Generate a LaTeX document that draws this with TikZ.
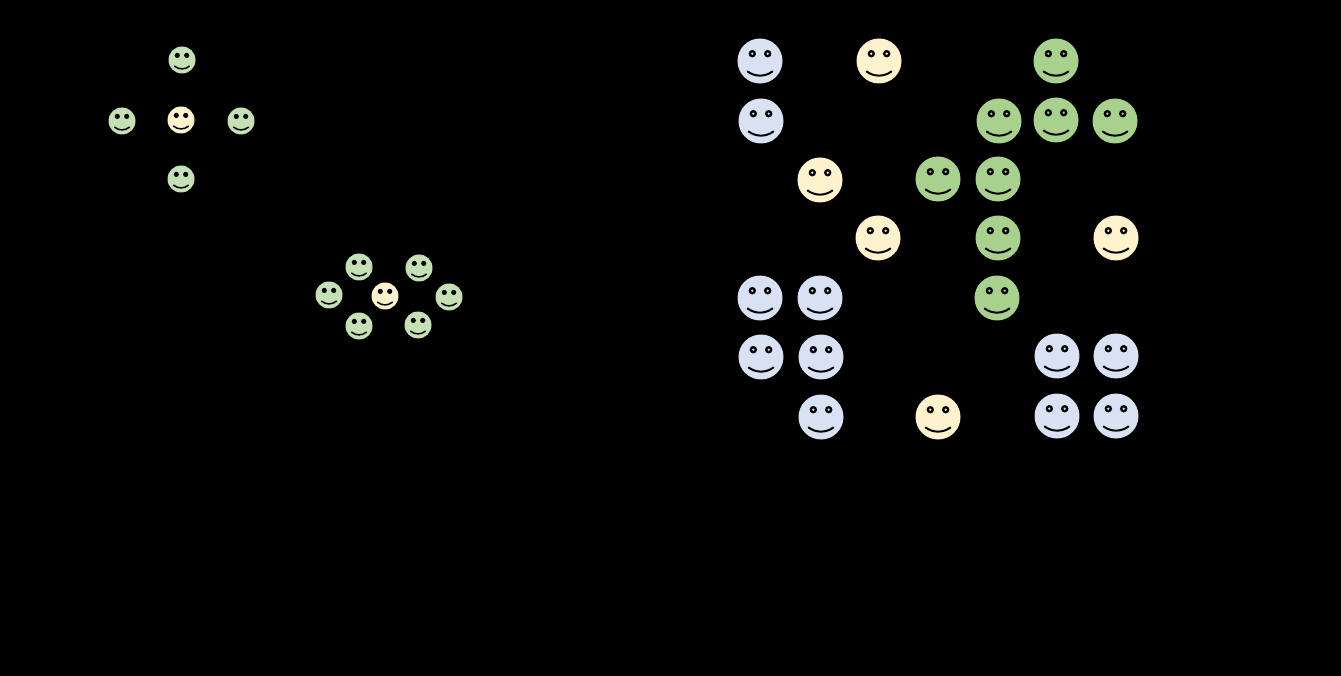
\documentclass[tikz,border=0pt]{standalone}
\definecolor{fblue}{HTML}{D9E2F3}
\definecolor{fyellow}{HTML}{FFF2CC}
\definecolor{fgreen}{HTML}{A9D18E}
\definecolor{lyellow}{HTML}{FFF2CC}
\definecolor{lgreen}{HTML}{C5E0B4}
\tikzset{
  pics/bigsmiley/.style={code={
    \fill[#1] (0,0) circle (22.5);
    \foreach \s in {-1,1}{
      \fill[#1,draw=black,line width=2.3pt] (\s*7.7,-7.3) circle (2.5);
    }
    \draw[black,line width=2pt,line cap=round] (-12.4,10.5) .. controls (-5,16) and (5,16) .. (12.4,10.5);
  }},
  pics/smallsmiley/.style={code={
    \fill[#1] (0,0) circle (13.5);
    \foreach \s in {-1,1}{
      \fill[black] (\s*4.7,-4.6) circle (2.6);
    }
    \draw[black,line width=1.5pt,line cap=round] (-7.4,6.2) .. controls (-3,9.8) and (3,9.8) .. (7.4,6.2);
  }}
}
\begin{document}
\begin{tikzpicture}[x=1pt,y=-1pt]
\useasboundingbox (0,0) rectangle (1341,676);
\fill[black] (0,0) rectangle (1341,676);
\foreach \x/\y in {760/61,761/121,760/298,820/298,761/357,821/357,821/417,1057/356,1116/356,1057/416,1116/416}
  \pic at (\x,\y) {bigsmiley=fblue};
\foreach \x/\y in {879/61,820/180,878/238,1116/238,938/417}
  \pic at (\x,\y) {bigsmiley=fyellow};
\foreach \x/\y in {1056/61,999/121,1056/120,1115/121,938/179,998/179,998/238,997/298}
  \pic at (\x,\y) {bigsmiley=fgreen};
\foreach \x/\y in {182/60,122/121,241/121,181/179,359/267,419/268,329/295,449/297,359/326,418/325}
  \pic at (\x,\y) {smallsmiley=lgreen};
\foreach \x/\y in {181/120,385/296}
  \pic at (\x,\y) {smallsmiley=lyellow};
\end{tikzpicture}
\end{document}
